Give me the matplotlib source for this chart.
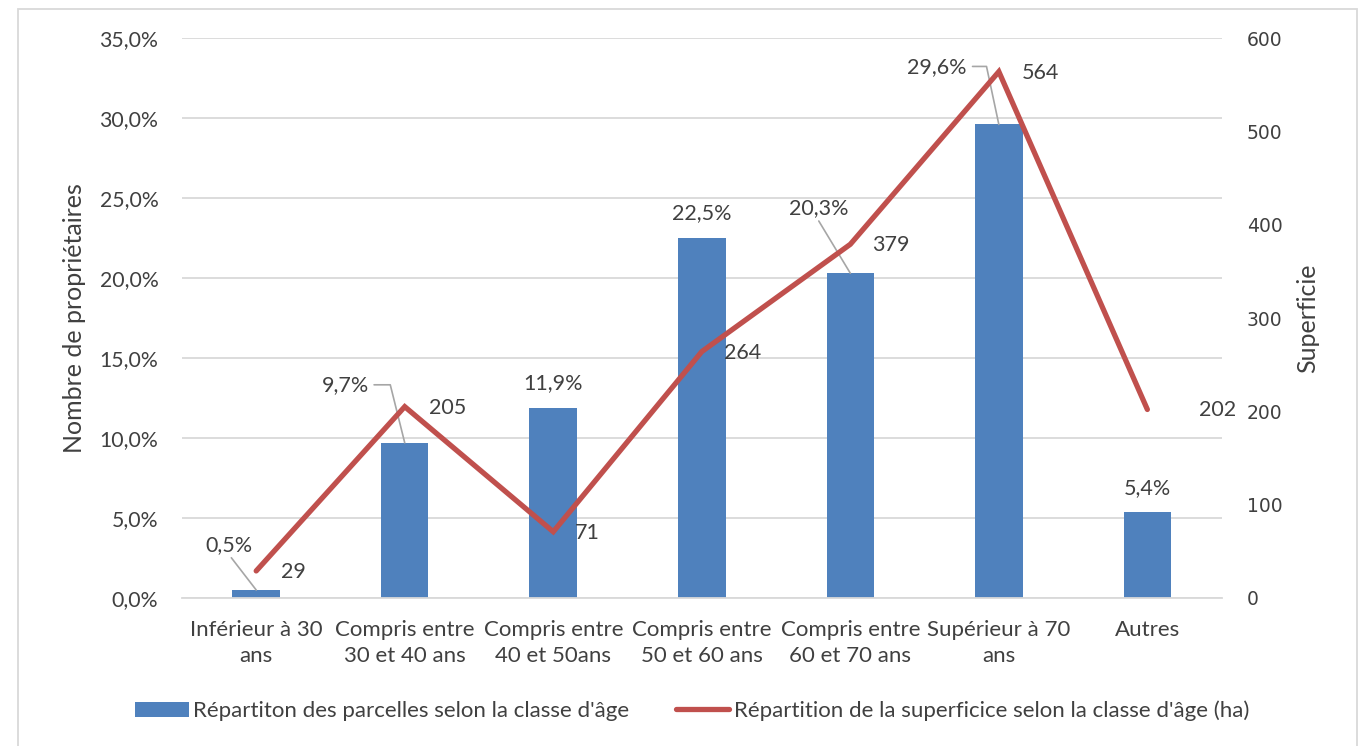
import matplotlib
matplotlib.use("Agg")
import matplotlib.pyplot as plt
from matplotlib.patches import Rectangle, Patch
from matplotlib.lines import Line2D
from matplotlib.ticker import FuncFormatter, MultipleLocator

# données
classes = ["Inférieur à 30\nans", "Compris entre\n30 et 40 ans", "Compris entre\n40 et 50ans",
           "Compris entre\n50 et 60 ans", "Compris entre\n60 et 70 ans", "Supérieur à 70\nans", "Autres"]
parcelles = [0.005, 0.097, 0.119, 0.225, 0.203, 0.296, 0.054]
superficie = [29, 205, 71, 264, 379, 564, 202]

bleu = "#4f81bd"
rouge = "#c0504d"
gris_txt = "#404040"

plt.rcParams['font.family'] = ['Lato', 'DejaVu Sans']
plt.rcParams['font.size'] = 15.5

fig = plt.figure(figsize=(13.68, 7.46), dpi=100)
ax = fig.add_axes([0.133, 0.1984, 0.760, 0.7506])
ax2 = ax.twinx()

x = list(range(len(classes)))
ax.bar(x, parcelles, width=0.32, color=bleu, zorder=2)
ax2.plot(x, superficie, color=rouge, lw=3.8, solid_capstyle='round', solid_joinstyle='miter', zorder=3)

ax.set_xlim(-0.5, len(classes) - 0.5)
ax.set_ylim(0, 0.35)
ax2.set_ylim(0, 600)
ax.yaxis.set_major_locator(MultipleLocator(0.05))
ax2.yaxis.set_major_locator(MultipleLocator(100))
ax.yaxis.set_major_formatter(FuncFormatter(lambda v, p: ("%.1f%%" % (v * 100)).replace(".", ",")))
ax.grid(axis='y', color="#d9d9d9", lw=1.3, zorder=0)
ax.set_axisbelow(True)

for a in (ax, ax2):
    for s in a.spines.values():
        s.set_visible(False)
ax.spines['bottom'].set_visible(True)
ax.spines['bottom'].set_color("#d9d9d9")
ax.spines['bottom'].set_linewidth(1.3)

ax.set_xticks(x)
ax.set_xticklabels(classes, linespacing=1.38)
ax.tick_params(axis='x', length=0, pad=16, colors=gris_txt, labelsize=16)
ax.tick_params(axis='y', length=0, pad=17, colors=gris_txt, labelsize=15.3)
ax2.tick_params(axis='y', length=0, pad=18, colors=gris_txt)
for t in ax2.get_yticklabels():
    t.set_fontfamily('DejaVu Sans')
    t.set_fontsize(13.5)

ax.set_ylabel("Nombre de propriétaires", color=gris_txt, fontsize=18)
ax.yaxis.set_label_coords(-0.092, 0.5)
ax2.set_ylabel("Superficie", color=gris_txt, fontsize=18)
ax2.yaxis.set_label_coords(1.072, 0.5)

# étiquettes des barres
def pct(v):
    return ("%.1f%%" % (v * 100)).replace(".", ",")

lead = dict(arrowstyle='-', color="#a6a6a6", lw=1.2, shrinkA=0, shrinkB=0)
# (décalage en pixels, style du trait de rappel)
bar_lbl = {
    0: ((-27, 45), dict(lead, relpos=(0.5, 0))),
    1: ((-59, 58), dict(lead, relpos=(1.1, 0.5), connectionstyle="angle,angleA=0,angleB=104,rad=0")),
    2: ((0, 25), None),
    3: ((0, 25), None),
    4: ((-32, 65), dict(lead, relpos=(0.5, -0.1))),
    5: ((-62, 57), dict(lead, relpos=(1.1, 0.55), connectionstyle="angle,angleA=0,angleB=102,rad=0")),
    6: ((0, 24), None),
}
for i, v in enumerate(parcelles):
    off, arr = bar_lbl[i]
    ax.annotate(pct(v), xy=(i, v), xytext=off, textcoords='offset pixels',
                ha='center', va='center', color=gris_txt, fontsize=15.5,
                arrowprops=arr, zorder=5)

# étiquettes de la courbe
line_off = [(25, -1), (24, -1), (22, -1), (22, -1), (22, -1), (23, -1), (52, -1)]
for i, v in enumerate(superficie):
    ax2.annotate(str(v), xy=(i, v), xytext=line_off[i], textcoords='offset pixels',
                 ha='left', va='center', color=gris_txt, fontsize=15.5, zorder=5)

handles = [Patch(facecolor=bleu, edgecolor='none'),
           Line2D([0], [0], color=rouge, lw=3.8, solid_capstyle='round')]
labels = ["Répartiton des parcelles selon la classe d'âge",
          "Répartition de la superficice selon la classe d'âge (ha)"]
leg = fig.legend(handles, labels, loc='center', bbox_to_anchor=(0.506, 0.047), ncol=2,
                 frameon=False, handlelength=2.4, handletextpad=0.2, columnspacing=2.1,
                 fontsize=16)
for t in leg.get_texts():
    t.set_color(gris_txt)

# cadre du graphique
fig.patches.append(Rectangle((18 / 1368, -0.01), (1357 - 18) / 1368, 1 - 9 / 746 + 0.01,
                             transform=fig.transFigure, fill=False, edgecolor="#d9d9d9", lw=1.3))

fig.savefig("out.png", dpi=100)
